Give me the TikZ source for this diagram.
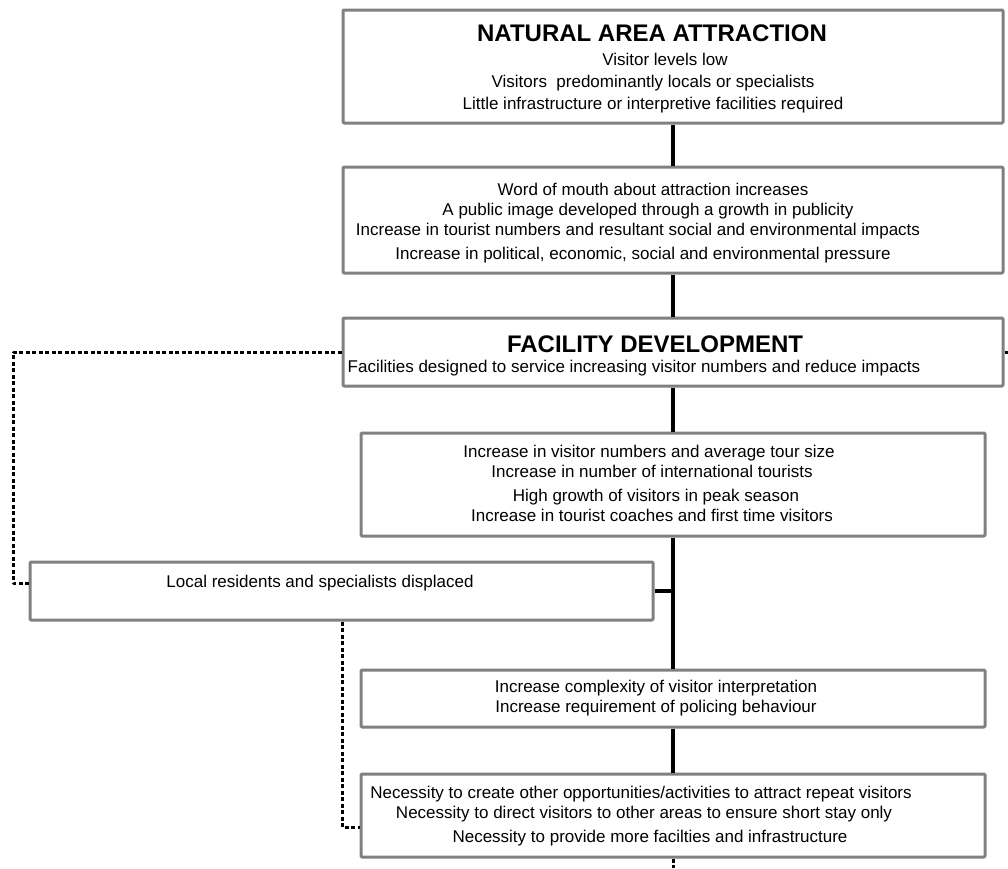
\documentclass[tikz,border=0pt]{standalone}
\usepackage{fontspec}
\setmainfont{Liberation Sans}
\begin{document}
\begin{tikzpicture}[x=1pt, y=-1pt, line join=round,
  box/.style={draw=black!50, line width=3pt, rounded corners=1pt, inner sep=0pt, fill=white},
  txt/.style={anchor=base, inner sep=0pt, font=\fontsize{17}{20}\selectfont},
  ttl/.style={anchor=base, inner sep=0pt, font=\fontsize{24}{28}\selectfont\bfseries},
  link/.style={line width=3.5pt},
  dots/.style={line width=3pt, dash pattern=on 4pt off 2.5pt}]
\useasboundingbox (0,0) rectangle (1008,868);
% boxes
\node[box, minimum width=660, minimum height=113] (natural) at (673,66.5) {};
\node[box, minimum width=660, minimum height=106] (word) at (673,220) {};
\node[box, minimum width=660, minimum height=68] (facility) at (673,352) {};
\node[box, minimum width=624, minimum height=103] (growth) at (673,484.5) {};
\node[box, minimum width=623, minimum height=58] (local) at (341.5,591) {};
\node[box, minimum width=624, minimum height=57] (interp) at (673,698.5) {};
\node[box, minimum width=624, minimum height=83] (necessity) at (673,815.5) {};
% main line
\draw[link] (natural.south) -- (word.north);
\draw[link] (word.south) -- (facility.north);
\draw[link] (facility.south) -- (growth.north);
\draw[link] (growth.south) -- (interp.north);
\draw[link] (local.east) -- (local.east -| growth.south);
\draw[link] (interp.south) -- (necessity.north);
% dotted feedback lines
\coordinate (lcorner) at (13,583);
\coordinate (rstub) at (1008,352);
\coordinate (ncorner) at (342,827);
\coordinate (bstub) at (673,868);
\draw[dots] (facility.west) -| (lcorner) -- (lcorner -| local.west);
\draw[dots] (facility.east) -- (rstub);
\draw[dots] (local.south -| ncorner) -- (ncorner) -- (ncorner -| necessity.west);
\draw[dots] (necessity.south) -- (bstub);
% texts
\node[ttl] (t1) at (652,41) {NATURAL AREA ATTRACTION};
\node[txt] (t1a) at (665,65) {Visitor levels low};
\node[txt] (t1b) at (653,87) {Visitors\ \ predominantly locals or specialists};
\node[txt] (t1c) at (653,109) {Little infrastructure or interpretive facilities required};
\node[txt] (t2a) at (653,195) {Word of mouth about attraction increases};
\node[txt] (t2b) at (648,215) {A public image developed through a growth in publicity};
\node[txt] (t2c) at (638,235) {Increase in tourist numbers and resultant social and environmental impacts};
\node[txt] (t2d) at (643,259) {Increase in political, economic, social and environmental pressure};
\node[ttl] (t3) at (655,352) {FACILITY DEVELOPMENT};
\node[txt] (t3a) at (634,372) {Facilities designed to service increasing visitor numbers and reduce impacts};
\node[txt] (t4a) at (649,457) {Increase in visitor numbers and average tour size};
\node[txt] (t4b) at (652,477) {Increase in number of international tourists};
\node[txt] (t4c) at (656,501) {High growth of visitors in peak season};
\node[txt] (t4d) at (652,521) {Increase in tourist coaches and first time visitors};
\node[txt] (tl) at (320,587) {Local residents and specialists displaced};
\node[txt] (t5a) at (656,692) {Increase complexity of visitor interpretation};
\node[txt] (t5b) at (656,712) {Increase requirement of policing behaviour};
\node[txt] (t6a) at (641,798) {Necessity to create other opportunities/activities to attract repeat visitors};
\node[txt] (t6b) at (644,818) {Necessity to direct visitors to other areas to ensure short stay only};
\node[txt] (t6c) at (650,842) {Necessity to provide more facilties and infrastructure};
\end{tikzpicture}
\end{document}
